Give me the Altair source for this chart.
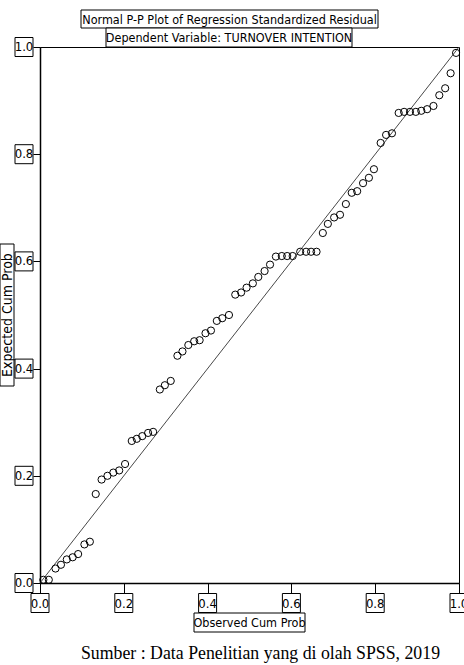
import altair as alt
import pandas as pd

# Observed vs expected cumulative probabilities
observed = [0.008, 0.021, 0.037, 0.050, 0.064, 0.078, 0.091, 0.106, 0.119, 0.133,
            0.147, 0.161, 0.175, 0.189, 0.203, 0.219, 0.231, 0.244, 0.258, 0.270,
            0.286, 0.298, 0.312, 0.328, 0.340, 0.354, 0.368, 0.381, 0.395, 0.408,
            0.422, 0.435, 0.451, 0.466, 0.480, 0.493, 0.508, 0.521, 0.536, 0.549,
            0.563, 0.577, 0.590, 0.603, 0.621, 0.635, 0.647, 0.660, 0.675, 0.687,
            0.702, 0.716, 0.730, 0.744, 0.757, 0.771, 0.785, 0.797, 0.813, 0.826,
            0.840, 0.856, 0.869, 0.883, 0.897, 0.910, 0.924, 0.939, 0.953, 0.967,
            0.980, 0.993]
expected = [0.006, 0.006, 0.027, 0.034, 0.044, 0.048, 0.054, 0.072, 0.077, 0.166,
            0.193, 0.200, 0.206, 0.210, 0.222, 0.265, 0.269, 0.274, 0.280, 0.282,
            0.361, 0.369, 0.377, 0.424, 0.432, 0.444, 0.451, 0.453, 0.466, 0.471,
            0.489, 0.494, 0.500, 0.538, 0.542, 0.551, 0.559, 0.571, 0.582, 0.594,
            0.609, 0.610, 0.610, 0.610, 0.618, 0.618, 0.618, 0.618, 0.653, 0.670,
            0.682, 0.687, 0.707, 0.728, 0.731, 0.746, 0.756, 0.772, 0.821, 0.836,
            0.839, 0.877, 0.879, 0.879, 0.879, 0.881, 0.884, 0.890, 0.910, 0.923,
            0.951, 0.989]

tick_values = [0.0, 0.2, 0.4, 0.6, 0.8, 1.0]
tick_labels = ["0.0", "0.2", "0.4", "0.6", "0.8", "1.0"]
diag = [0.0, 1.0]

title1 = "Normal P-P Plot of Regression Standardized Residual"
title2 = "Dependent Variable: TURNOVER INTENTION"
x_title = "Observed Cum Prob"
y_title = "Expected Cum Prob"
source = "Sumber : Data Penelitian yang di olah SPSS, 2019"

SANS = "'Liberation Sans Narrow', 'DejaVu Sans Condensed', 'Liberation Sans', sans-serif"
SERIF = "'Liberation Serif', 'DejaVu Serif', serif"

W, H = 419, 536

pts = pd.DataFrame({"obs": observed, "exp": expected})
diag_df = pd.DataFrame({"obs": diag, "exp": diag})
ticks_df = pd.DataFrame({"v": tick_values, "lab": tick_labels})

xs = alt.Scale(domain=[0, 1], nice=False, zero=False)
ys = alt.Scale(domain=[0, 1], nice=False, zero=False)

def box_shape(w, h):
    s = max(w, h)
    a, b = w / s, h / s
    return f"M{-a},{-b}L{a},{-b}L{a},{b}L{-a},{b}Z", s * s

base = alt.Chart(pts).encode(
    x=alt.X("obs:Q", scale=xs,
            axis=alt.Axis(values=tick_values, labels=False, title=None, grid=False,
                          tickSize=10, tickColor="black", tickWidth=1,
                          domainColor="black", domainWidth=1.5)),
    y=alt.Y("exp:Q", scale=ys,
            axis=alt.Axis(values=tick_values, labels=False, title=None, grid=False,
                          tickSize=7, tickColor="black", tickWidth=1,
                          domainColor="black", domainWidth=1.5)),
)

points = base.mark_point(shape="circle", size=52, filled=False, color="black",
                         strokeWidth=1, opacity=1)

line = alt.Chart(diag_df).mark_line(color="#333333", strokeWidth=0.9).encode(
    x=alt.X("obs:Q", scale=xs), y=alt.Y("exp:Q", scale=ys))

# tick labels with boxes
tshape, tsize = box_shape(18, 19)
xbox = alt.Chart(ticks_df).mark_point(shape=tshape, size=tsize, filled=True, fill="white",
                                      stroke="black", strokeWidth=1, opacity=1).encode(
    x=alt.X("v:Q", scale=xs), y=alt.value(H + 20))
xlab = alt.Chart(ticks_df).mark_text(font=SANS, fontSize=13, color="black",
                                     baseline="middle", align="center").encode(
    x=alt.X("v:Q", scale=xs), y=alt.value(H + 20.5), text="lab:N")
ybox = alt.Chart(ticks_df).mark_point(shape=tshape, size=tsize, filled=True, fill="white",
                                      stroke="black", strokeWidth=1, opacity=1).encode(
    y=alt.Y("v:Q", scale=ys), x=alt.value(-16))
ylab = alt.Chart(ticks_df).mark_text(font=SANS, fontSize=13, color="black",
                                     baseline="middle", align="center").encode(
    y=alt.Y("v:Q", scale=ys), x=alt.value(-16), text="lab:N")

one = pd.DataFrame({"t1": [title1], "t2": [title2], "xt": [x_title], "yt": [y_title], "src": [source]})

def boxed_text(field, cx, cy, w, h, angle=0, font=SANS, size=12.5):
    shp, sz = box_shape(w, h)
    b = alt.Chart(one).mark_point(shape=shp, size=sz, filled=True, fill="white",
                                  stroke="black", strokeWidth=1, opacity=1).encode(
        x=alt.value(cx), y=alt.value(cy))
    t = alt.Chart(one).mark_text(font=font, fontSize=size, color="black", angle=angle,
                                 baseline="middle", align="center").encode(
        x=alt.value(cx), y=alt.value(cy + 0.5), text=f"{field}:N")
    return b + t

t1 = boxed_text("t1", 189.5, -28, 297, 18)
t2 = boxed_text("t2", 189, -9.5, 246, 19)
xt = boxed_text("xt", W / 2, H + 39.5, 111, 19)
ytb_shape, ytb_size = box_shape(14, 142)
ytb = alt.Chart(one).mark_point(shape=ytb_shape, size=ytb_size, filled=True, fill="white",
                                stroke="black", strokeWidth=1, opacity=1).encode(
    x=alt.value(-33), y=alt.value(H / 2))
ytt = alt.Chart(one).mark_text(font=SANS, fontSize=14, color="black", angle=270,
                               baseline="middle", align="center").encode(
    x=alt.value(-32.5), y=alt.value(H / 2), text="yt:N")
src = alt.Chart(one).mark_text(font=SERIF, fontSize=17.8, color="black",
                               baseline="alphabetic", align="center").encode(
    x=alt.value(220.5), y=alt.value(H + 76), text="src:N")

chart = alt.layer(line, points, xbox, xlab, ybox, ylab, t1, t2, xt, ytb, ytt, src).properties(
    width=W, height=H,
    autosize=alt.AutoSizeParams(type="none"),
    padding={"left": 40, "top": 47, "right": 5, "bottom": 82},
    background="white",
).configure_view(stroke="black", strokeWidth=1)

chart.save("out.html", embed_options={"renderer": "svg", "actions": False})
